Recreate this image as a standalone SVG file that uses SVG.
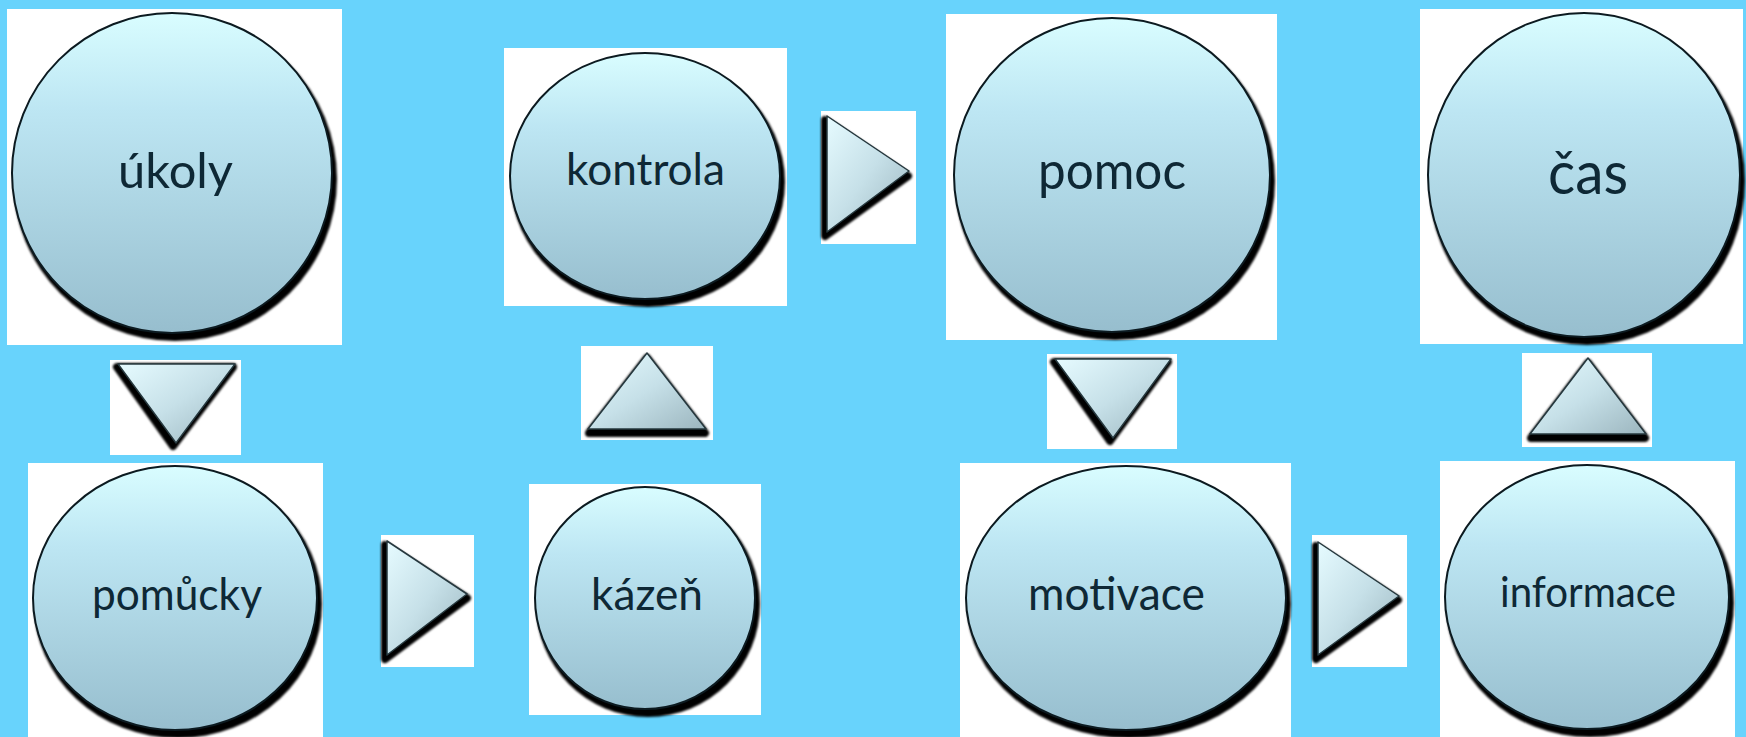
<svg xmlns="http://www.w3.org/2000/svg" width="1746" height="737" viewBox="0 0 1746 737">
<defs>
<linearGradient id="ball" x1="0" y1="0" x2="0" y2="1">
<stop offset="0" stop-color="#d9fdff"/>
<stop offset="0.3" stop-color="#bde6f3"/>
<stop offset="1" stop-color="#97bece"/>
</linearGradient>
<linearGradient id="tri" x1="0" y1="0" x2="1" y2="1">
<stop offset="0" stop-color="#e6fbff"/>
<stop offset="0.5" stop-color="#c6e0e8"/>
<stop offset="1" stop-color="#9bb5be"/>
</linearGradient>
<filter id="blur" x="-10%" y="-10%" width="120%" height="120%"><feGaussianBlur stdDeviation="1"/></filter>
</defs>
<style>
.bg{fill:#68d3fc}
.box{fill:#ffffff}
.sh{fill:#000000;filter:url(#blur)}
.ball{fill:url(#ball);stroke:#0c1a20;stroke-width:2}
.lbl{font-family:Lato,"Open Sans","Liberation Sans",sans-serif;fill:#0e2835}
.tsh{fill:#000;stroke:#000;stroke-width:8;stroke-linejoin:round;filter:url(#blur)}
.tri{fill:url(#tri);stroke:#26383e;stroke-width:1.5;stroke-linejoin:round}
</style>
<rect class="bg" x="0" y="0" width="1746" height="737"/>

<g id="node-ukoly">
<rect class="box" x="7" y="9" width="335" height="336"/>
<ellipse class="sh" cx="175" cy="179" rx="162" ry="162"/>
<ellipse class="ball" cx="172" cy="173" rx="160" ry="160"/>
<text class="lbl" x="118" y="188" font-size="49" textLength="115" lengthAdjust="spacingAndGlyphs">úkoly</text>
</g>
<g id="node-kontrola">
<rect class="box" x="504" y="48" width="283" height="258"/>
<ellipse class="sh" cx="648" cy="182" rx="137" ry="125"/>
<ellipse class="ball" cx="645" cy="176" rx="135" ry="123"/>
<text class="lbl" x="566" y="185" font-size="44" textLength="159" lengthAdjust="spacingAndGlyphs">kontrola</text>
</g>
<g id="node-pomoc">
<rect class="box" x="946" y="14" width="331" height="326"/>
<ellipse class="sh" cx="1115" cy="181" rx="160" ry="159"/>
<ellipse class="ball" cx="1112" cy="175" rx="158" ry="157"/>
<text class="lbl" x="1038" y="189" font-size="53" textLength="148" lengthAdjust="spacingAndGlyphs">pomoc</text>
</g>
<g id="node-cas">
<rect class="box" x="1420" y="9" width="323" height="335"/>
<ellipse class="sh" cx="1587" cy="181" rx="158" ry="164"/>
<ellipse class="ball" cx="1584" cy="175" rx="156" ry="162"/>
<text class="lbl" x="1548" y="194" font-size="60" textLength="80" lengthAdjust="spacingAndGlyphs">čas</text>
</g>
<g id="node-pomucky">
<rect class="box" x="28" y="463" width="295" height="274"/>
<ellipse class="sh" cx="178" cy="604" rx="144" ry="134"/>
<ellipse class="ball" cx="175" cy="598" rx="142" ry="132"/>
<text class="lbl" x="92" y="610" font-size="44" textLength="170" lengthAdjust="spacingAndGlyphs">pomůcky</text>
</g>
<g id="node-kazen">
<rect class="box" x="529" y="484" width="232" height="231"/>
<ellipse class="sh" cx="648" cy="604" rx="112" ry="113"/>
<ellipse class="ball" cx="645" cy="598" rx="110" ry="111"/>
<text class="lbl" x="591" y="610" font-size="44" textLength="112" lengthAdjust="spacingAndGlyphs">kázeň</text>
</g>
<g id="node-motivace">
<rect class="box" x="960" y="463" width="331" height="274"/>
<ellipse class="sh" cx="1129" cy="604" rx="162" ry="134"/>
<ellipse class="ball" cx="1126" cy="598" rx="160" ry="132"/>
<text class="lbl" x="1028" y="610" font-size="47" textLength="177" lengthAdjust="spacingAndGlyphs">motivace</text>
</g>
<g id="node-informace">
<rect class="box" x="1440" y="461" width="295" height="276"/>
<ellipse class="sh" cx="1590" cy="603" rx="144" ry="134"/>
<ellipse class="ball" cx="1587" cy="597" rx="142" ry="132"/>
<text class="lbl" x="1500" y="607" font-size="42" textLength="176" lengthAdjust="spacingAndGlyphs">informace</text>
</g>

<g id="connectors">
<g id="arrow-ukoly-pomucky">
<rect class="box" x="110" y="360" width="131" height="95"/>
<polygon class="tsh" points="117,367 233,367 173,446"/>
<polygon class="tri" points="118,364 235,364 176,443"/>
</g>
<g id="arrow-pomucky-kazen">
<rect class="box" x="381" y="535" width="93" height="132"/>
<polygon class="tsh" points="385,545 467,598 385,659"/>
<polygon class="tri" points="387,541 467,594 387,655"/>
</g>
<g id="arrow-kazen-kontrola">
<rect class="box" x="581" y="346" width="132" height="94"/>
<polygon class="tsh" points="647,358 705,433 589,433"/>
<polygon class="tri" points="647,353 706,429 588,429"/>
</g>
<g id="arrow-kontrola-pomoc">
<rect class="box" x="821" y="111" width="95" height="133"/>
<polygon class="tsh" points="825,120 908,176 825,236"/>
<polygon class="tri" points="827,116 909,171 827,232"/>
</g>
<g id="arrow-pomoc-motivace">
<rect class="box" x="1047" y="354" width="130" height="95"/>
<polygon class="tsh" points="1054,362 1168,362 1110,441"/>
<polygon class="tri" points="1055,359 1171,359 1113,438"/>
</g>
<g id="arrow-motivace-informace">
<rect class="box" x="1312" y="535" width="95" height="132"/>
<polygon class="tsh" points="1316,546 1398,600 1316,659"/>
<polygon class="tri" points="1318,542 1399,596 1318,655"/>
</g>
<g id="arrow-informace-cas">
<rect class="box" x="1522" y="353" width="130" height="94"/>
<polygon class="tsh" points="1588,363 1645,438 1531,438"/>
<polygon class="tri" points="1588,358 1646,434 1530,434"/>
</g>
</g>
</svg>
